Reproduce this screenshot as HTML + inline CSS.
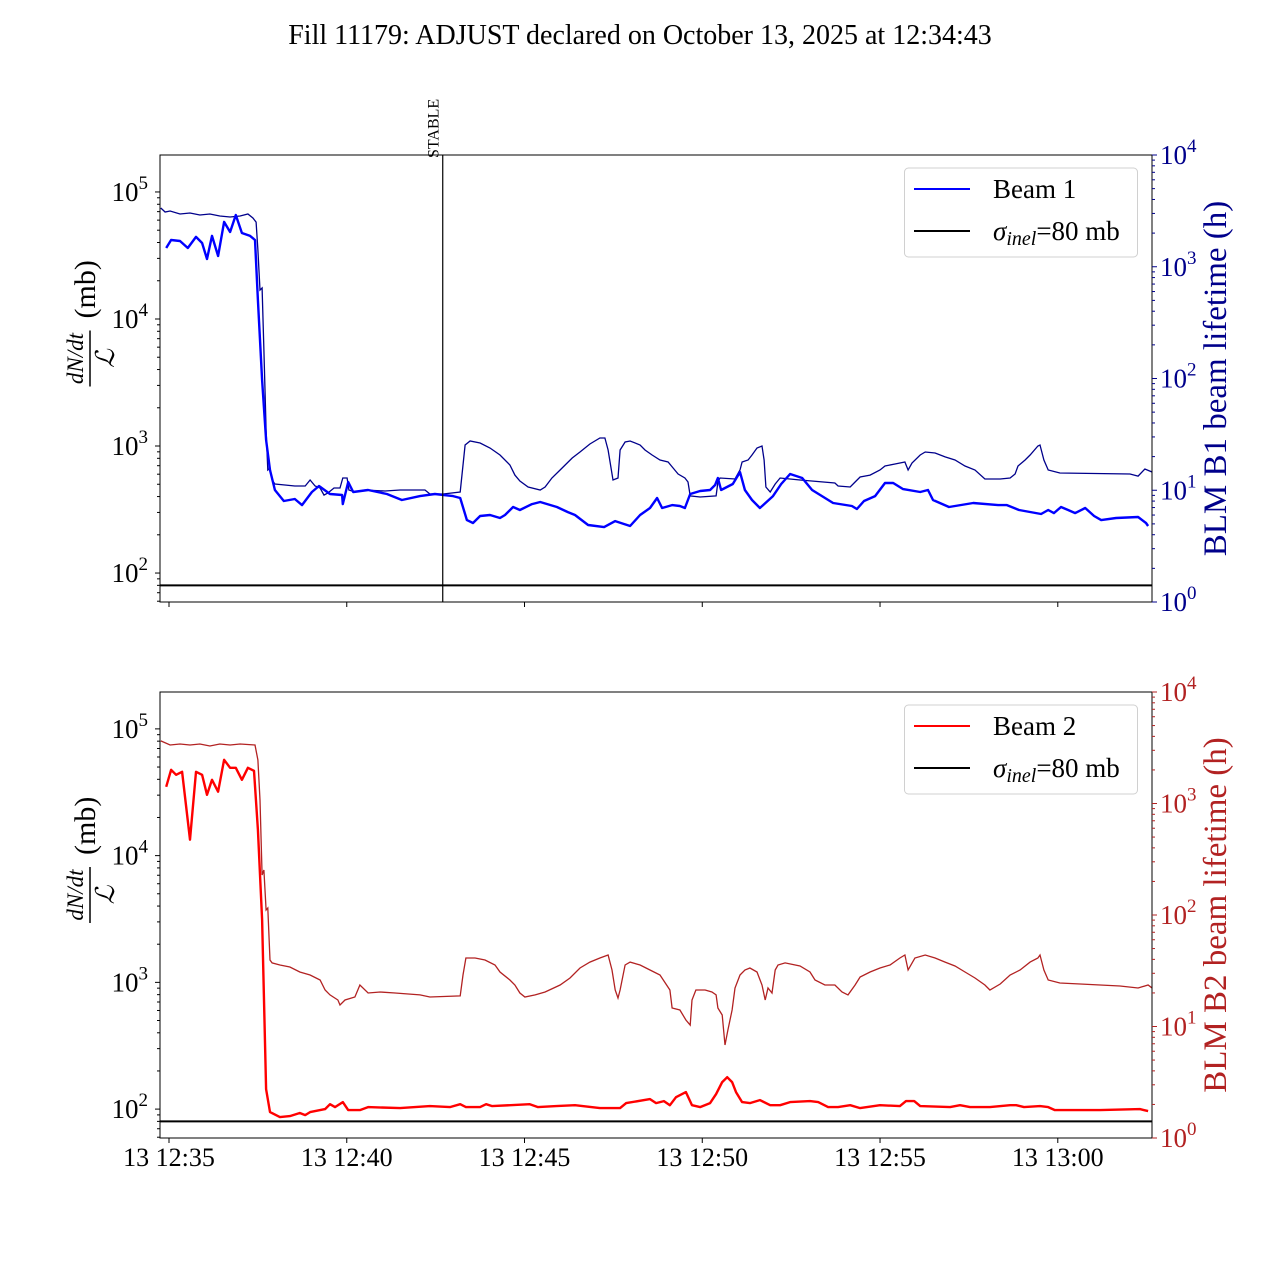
<!DOCTYPE html>
<html><head><meta charset="utf-8"><style>
html,body{margin:0;padding:0;background:#fff;}
svg{display:block;font-family:"Liberation Serif","DejaVu Serif",serif;}
</style></head><body>
<svg id="fig" width="1280" height="1280" viewBox="0 0 1280 1280">
<rect width="1280" height="1280" fill="#fff"/>
<text x="640" y="44" text-anchor="middle" font-size="28">Fill 11179: ADJUST declared on October 13, 2025 at 12:34:43</text>
</svg>
<script>
// time in minutes after 13 Oct 12:35; values are log10
const xTickLabels = ["13 12:35","13 12:40","13 12:45","13 12:50","13 12:55","13 13:00"];
const xTickMinutes = [0,5,10,15,20,25];
const stableMinute = 7.7;
const sigmaInel = 80;

const b1T = [-0.08,0.06,0.31,0.53,0.76,0.93,1.07,1.21,1.38,1.55,1.72,1.88,2.05,2.28,2.42,2.50,2.62,2.73,2.84,2.98,3.23,3.54,3.74,4.02,4.22,4.53,4.87,4.89,5.04,5.18,5.60,6.13,6.55,7.06,7.48,7.99,8.19,8.38,8.55,8.75,9.03,9.31,9.45,9.68,9.87,10.21,10.44,10.91,11.22,11.42,11.79,12.24,12.55,12.97,13.25,13.53,13.73,13.87,14.15,14.37,14.51,14.66,14.94,15.22,15.36,15.44,15.53,15.86,16.06,16.20,16.40,16.62,16.99,17.22,17.47,17.81,18.09,18.68,19.21,19.35,19.55,19.86,20.14,20.37,20.65,21.13,21.35,21.49,21.94,22.62,23.32,23.57,23.91,24.53,24.73,24.89,25.09,25.29,25.49,25.77,26.02,26.22,26.64,27.26,27.48,27.54];
const b1LogXsec = [4.559,4.622,4.614,4.559,4.646,4.598,4.472,4.654,4.496,4.764,4.685,4.819,4.677,4.654,4.622,4.150,3.520,3.047,2.811,2.654,2.567,2.583,2.535,2.638,2.685,2.622,2.614,2.543,2.717,2.638,2.654,2.622,2.575,2.606,2.622,2.606,2.591,2.417,2.394,2.449,2.457,2.433,2.457,2.520,2.496,2.543,2.559,2.520,2.480,2.457,2.378,2.362,2.409,2.370,2.457,2.512,2.591,2.512,2.535,2.528,2.512,2.622,2.646,2.654,2.693,2.748,2.654,2.701,2.795,2.654,2.575,2.512,2.606,2.701,2.780,2.748,2.654,2.551,2.528,2.504,2.567,2.606,2.709,2.709,2.661,2.638,2.654,2.575,2.520,2.551,2.535,2.535,2.496,2.465,2.496,2.472,2.520,2.496,2.472,2.512,2.449,2.417,2.433,2.441,2.394,2.370];

const blm1T = [-0.23,-0.11,0.03,0.31,0.59,0.87,1.15,1.43,1.72,2.00,2.22,2.36,2.45,2.50,2.56,2.62,2.67,2.73,2.78,2.84,2.90,2.98,3.26,3.54,3.83,3.97,4.11,4.25,4.36,4.47,4.64,4.81,4.89,5.01,5.06,5.23,5.51,6.08,6.50,7.20,7.34,7.71,8.19,8.33,8.47,8.75,9.03,9.31,9.59,9.73,9.87,10.10,10.44,10.58,10.77,11.00,11.34,11.56,11.84,12.12,12.26,12.35,12.49,12.63,12.69,12.83,12.97,13.25,13.39,13.59,13.81,14.04,14.18,14.32,14.51,14.60,14.66,14.94,15.39,15.44,15.50,15.92,16.06,16.12,16.29,16.40,16.54,16.68,16.74,16.79,16.91,17.05,17.19,17.75,18.73,18.82,19.16,19.30,19.44,19.72,20.00,20.14,20.42,20.70,20.79,20.90,21.13,21.27,21.55,21.83,22.11,22.39,22.67,22.95,23.38,23.66,23.80,23.88,24.08,24.22,24.44,24.50,24.61,24.73,25.06,27.03,27.26,27.45,27.65];
const blm1LogLife = [3.526,3.490,3.499,3.472,3.481,3.463,3.472,3.454,3.445,3.454,3.472,3.436,3.400,3.150,2.792,2.810,2.255,1.539,1.181,1.199,1.092,1.056,1.047,1.038,1.038,1.092,1.038,1.020,0.957,0.975,1.020,1.020,1.110,1.110,1.002,0.984,1.002,0.993,1.002,1.002,0.966,0.966,0.984,1.405,1.441,1.423,1.378,1.315,1.226,1.136,1.083,1.029,1.002,1.029,1.110,1.181,1.289,1.342,1.414,1.468,1.468,1.360,1.092,1.110,1.360,1.432,1.441,1.405,1.360,1.315,1.271,1.253,1.199,1.145,1.110,1.074,0.949,0.940,0.949,1.074,1.110,1.101,1.181,1.253,1.271,1.315,1.378,1.396,1.271,1.029,0.984,1.056,1.110,1.092,1.065,1.038,1.029,1.074,1.119,1.136,1.181,1.217,1.235,1.253,1.181,1.244,1.315,1.342,1.333,1.298,1.271,1.217,1.181,1.101,1.101,1.110,1.145,1.217,1.271,1.315,1.396,1.405,1.271,1.181,1.154,1.145,1.127,1.190,1.163];

const b2T = [-0.08,0.06,0.20,0.37,0.59,0.76,0.93,1.07,1.21,1.38,1.55,1.72,1.88,2.05,2.22,2.39,2.50,2.62,2.73,2.84,3.12,3.40,3.68,3.83,3.97,4.39,4.53,4.67,4.89,5.04,5.37,5.60,6.50,7.34,7.90,8.19,8.35,8.75,8.92,9.09,10.15,10.38,10.89,11.42,12.12,12.69,12.86,13.53,13.70,13.92,14.09,14.26,14.54,14.71,14.94,15.22,15.39,15.56,15.70,15.84,15.95,16.12,16.34,16.62,16.91,17.19,17.47,18.03,18.26,18.54,18.82,19.16,19.44,20.00,20.56,20.73,20.96,21.13,21.97,22.25,22.53,23.09,23.66,23.83,24.05,24.50,24.73,24.92,26.19,27.31,27.54];
const b2LogXsec = [4.543,4.677,4.638,4.661,4.126,4.661,4.638,4.480,4.598,4.504,4.756,4.693,4.693,4.598,4.693,4.669,4.205,3.496,2.157,1.976,1.937,1.945,1.969,1.953,1.976,2.000,2.039,2.016,2.055,1.992,1.992,2.016,2.008,2.024,2.016,2.039,2.016,2.016,2.039,2.024,2.039,2.016,2.024,2.031,2.008,2.008,2.047,2.079,2.047,2.063,2.031,2.094,2.134,2.031,2.016,2.047,2.118,2.213,2.252,2.213,2.134,2.055,2.047,2.071,2.031,2.031,2.055,2.063,2.055,2.016,2.016,2.031,2.008,2.031,2.024,2.063,2.063,2.024,2.016,2.031,2.016,2.016,2.031,2.031,2.016,2.024,2.016,1.992,1.992,2.000,1.984];

const blm2T = [-0.23,0.03,0.31,0.59,0.87,1.15,1.43,1.72,2.00,2.42,2.50,2.56,2.62,2.67,2.73,2.78,2.84,2.90,3.12,3.40,3.68,3.97,4.25,4.39,4.53,4.75,4.81,4.95,5.23,5.37,5.60,5.94,6.36,6.78,7.06,7.34,8.19,8.27,8.35,8.61,8.89,9.17,9.31,9.59,9.73,9.87,10.01,10.30,10.58,11.00,11.28,11.56,11.84,12.12,12.35,12.46,12.55,12.63,12.69,12.83,12.97,13.25,13.53,13.81,14.09,14.15,14.37,14.54,14.66,14.71,14.82,15.08,15.27,15.39,15.44,15.56,15.64,15.72,15.84,15.92,16.06,16.20,16.34,16.54,16.68,16.77,16.85,16.96,17.05,17.13,17.33,17.75,18.03,18.17,18.45,18.73,18.93,19.10,19.30,19.44,19.72,20.00,20.28,20.56,20.70,20.79,20.98,21.27,21.55,21.83,22.11,22.39,22.67,22.95,23.09,23.38,23.66,23.94,24.22,24.44,24.50,24.61,24.73,25.06,25.63,26.19,26.75,27.26,27.54,27.65];
const blm2LogLife = [3.561,3.525,3.534,3.525,3.534,3.516,3.534,3.525,3.534,3.525,3.390,3.031,2.359,2.404,2.045,2.063,1.596,1.570,1.552,1.534,1.489,1.462,1.417,1.327,1.283,1.238,1.193,1.238,1.265,1.372,1.300,1.309,1.300,1.291,1.283,1.265,1.274,1.462,1.614,1.614,1.596,1.552,1.489,1.417,1.372,1.300,1.265,1.283,1.309,1.372,1.435,1.525,1.578,1.614,1.641,1.507,1.327,1.256,1.327,1.552,1.578,1.552,1.507,1.462,1.327,1.166,1.148,1.058,1.013,1.238,1.327,1.327,1.309,1.283,1.166,1.103,0.834,0.969,1.148,1.345,1.462,1.507,1.525,1.489,1.372,1.238,1.345,1.300,1.507,1.552,1.570,1.543,1.489,1.417,1.372,1.372,1.309,1.283,1.372,1.444,1.489,1.525,1.552,1.614,1.641,1.507,1.614,1.641,1.614,1.578,1.543,1.489,1.435,1.372,1.327,1.381,1.462,1.507,1.578,1.614,1.641,1.507,1.417,1.390,1.381,1.372,1.363,1.345,1.372,1.345];

const NS = "http://www.w3.org/2000/svg";
const svg = document.getElementById('fig');
const X0 = 160, X1 = 1152;
const tMin = -0.253, tMax = 27.65;
function xs(t){ return X0 + (t - tMin) / (tMax - tMin) * (X1 - X0); }
function mk(tag, attrs, parent){ const e = document.createElementNS(NS, tag); for (const k in attrs) e.setAttribute(k, attrs[k]); (parent||svg).appendChild(e); return e; }

function panel(cfg){
  const g = mk('g', {});
  
  
  const top = cfg.top, bot = cfg.bot;
  const yl = l => top + (cfg.lMax - l) / (cfg.lMax - cfg.lMin) * (bot - top);
  const yr = l => top + (4 - l) / 4 * (bot - top);
  const cid = 'clip' + cfg.id;
  const cp = mk('clipPath', {id: cid}, g);
  mk('rect', {x: X0, y: top, width: X1 - X0, height: bot - top}, cp);
  let d = '';
  cfg.rT.forEach((t, i) => { d += (i ? 'L' : 'M') + xs(t).toFixed(1) + ',' + yr(cfg.rV[i]).toFixed(1); });
  const p1 = mk('path', {d: d, fill: 'none', stroke: cfg.rColor, 'stroke-width': 1.3, 'clip-path': 'url(#' + cid + ')'}, g);
  
  
  d = '';
  cfg.lT.forEach((t, i) => { d += (i ? 'L' : 'M') + xs(t).toFixed(1) + ',' + yl(cfg.lV[i]).toFixed(1); });
  const p2 = mk('path', {d: d, fill: 'none', stroke: cfg.lColor, 'stroke-width': 2.4, 'stroke-linejoin': 'round', 'clip-path': 'url(#' + cid + ')'}, g);
  
  
  const ys = yl(Math.log10(sigmaInel));
  const sl = mk('line', {x1: X0, x2: X1, y1: ys, y2: ys, stroke: '#000', 'stroke-width': 2}, g);
  
  
  const fr = mk('rect', {x: X0, y: top, width: X1 - X0, height: bot - top, fill: 'none', stroke: '#000', 'stroke-width': 1}, g);
  
  
  for (let dec = Math.floor(cfg.lMin); dec <= Math.ceil(cfg.lMax); dec++) {
    for (let m = 1; m < 10; m++) {
      const l = dec + Math.log10(m);
      if (l < cfg.lMin || l > cfg.lMax) continue;
      const y = yl(l);
      mk('line', {x1: X0, x2: X0 - (m === 1 ? 5 : 3), y1: y, y2: y, stroke: '#000', 'stroke-width': 1}, g);
      if (m === 1) {
        const tx = mk('text', {x: 148, y: y + 9, 'text-anchor': 'end', 'font-size': 27}, g);
        
        
        tx.innerHTML = '10<tspan dy="-12" font-size="19">' + dec + '</tspan>';
      }
    }
  }
  for (let dec = 0; dec <= 4; dec++) {
    for (let m = 1; m < 10; m++) {
      const l = dec + Math.log10(m);
      if (l > 4) continue;
      const y = yr(l);
      mk('line', {x1: X1, x2: X1 + (m === 1 ? 5 : 3), y1: y, y2: y, stroke: cfg.rColor, 'stroke-width': 1}, g);
      if (m === 1) {
        const tx = mk('text', {x: 1160, y: y + 9, 'font-size': 27, fill: cfg.rColor}, g);
        
        
        tx.innerHTML = '10<tspan dy="-12" font-size="19">' + dec + '</tspan>';
      }
    }
  }
  xTickMinutes.forEach((t, i) => {
    const x = xs(t);
    mk('line', {x1: x, x2: x, y1: bot, y2: bot + 5, stroke: '#000', 'stroke-width': 1}, g);
    if (cfg.xLabels) {
      const tx = mk('text', {x: x, y: bot + 28, 'text-anchor': 'middle', 'font-size': 26}, g);
      
      
      tx.textContent = xTickLabels[i];
    }
  });
  const cy = (top + bot) / 2 - 20;
  const yg = mk('g', {transform: 'translate(92,' + cy + ') rotate(-90)'}, g);
  
  
  const n1 = mk('text', {x: 0, y: -9, 'text-anchor': 'middle', 'font-size': 23, 'font-style': 'italic'}, yg);
  n1.textContent = 'dN/dt';
  mk('line', {x1: -28, x2: 28, y1: -2, y2: -2, stroke: '#000', 'stroke-width': 1.5}, yg);
  const n2 = mk('text', {x: 0, y: 22, 'text-anchor': 'middle', 'font-size': 26, 'font-style': 'italic'}, yg);
  n2.textContent = 'ℒ';
  const n3 = mk('text', {x: 40, y: 3, 'font-size': 30}, yg);
  n3.textContent = '(mb)';
  const rl = mk('text', {transform: 'translate(1226,' + (top + bot) / 2 + ') rotate(-90)', 'text-anchor': 'middle', 'font-size': 33, fill: cfg.rColor}, g);
  
  
  rl.textContent = cfg.rLabel;
  const lg = mk('g', {}, g);
  
  
  const ly = top + 13;
  mk('rect', {x: 904.5, y: ly, width: 233, height: 89, rx: 4, fill: '#fff', stroke: '#d0d0d0', 'stroke-width': 1}, lg);
  mk('line', {x1: 914, x2: 970, y1: ly + 21, y2: ly + 21, stroke: cfg.lColor, 'stroke-width': 2}, lg);
  const t1 = mk('text', {x: 993, y: ly + 30, 'font-size': 27}, lg);
  
  
  t1.textContent = cfg.legend;
  mk('line', {x1: 914, x2: 970, y1: ly + 63, y2: ly + 63, stroke: '#000', 'stroke-width': 2}, lg);
  const t2 = mk('text', {x: 993, y: ly + 72, 'font-size': 27}, lg);
  
  
  t2.innerHTML = '<tspan font-style="italic">σ</tspan><tspan font-style="italic" font-size="20" dy="5">inel</tspan><tspan dy="-5">=80 mb</tspan>';
  return g;
}

panel({id: 1, name: 'beam1-panel', top: 155, bot: 602, lMax: 5.291, lMin: 1.772,
  lT: b1T, lV: b1LogXsec, lColor: '#0000ff', lName: 'beam1-cross-section-line',
  rT: blm1T, rV: blm1LogLife, rColor: '#00008b', rName: 'blm-b1-lifetime-line',
  rLabel: 'BLM B1 beam lifetime (h)', legend: 'Beam 1', xLabels: false});
panel({id: 2, name: 'beam2-panel', top: 692, bot: 1138, lMax: 5.291, lMin: 1.772,
  lT: b2T, lV: b2LogXsec, lColor: '#ff0000', lName: 'beam2-cross-section-line',
  rT: blm2T, rV: blm2LogLife, rColor: '#b22222', rName: 'blm-b2-lifetime-line',
  rLabel: 'BLM B2 beam lifetime (h)', legend: 'Beam 2', xLabels: true});

const sx = xs(stableMinute);
const sLine = mk('line', {x1: sx, x2: sx, y1: 155, y2: 602, stroke: '#000', 'stroke-width': 1.2});


const sTxt = mk('text', {transform: 'translate(' + (sx - 4) + ',158) rotate(-90)', 'font-size': 16});


sTxt.textContent = 'STABLE';
</script>
</body></html>
